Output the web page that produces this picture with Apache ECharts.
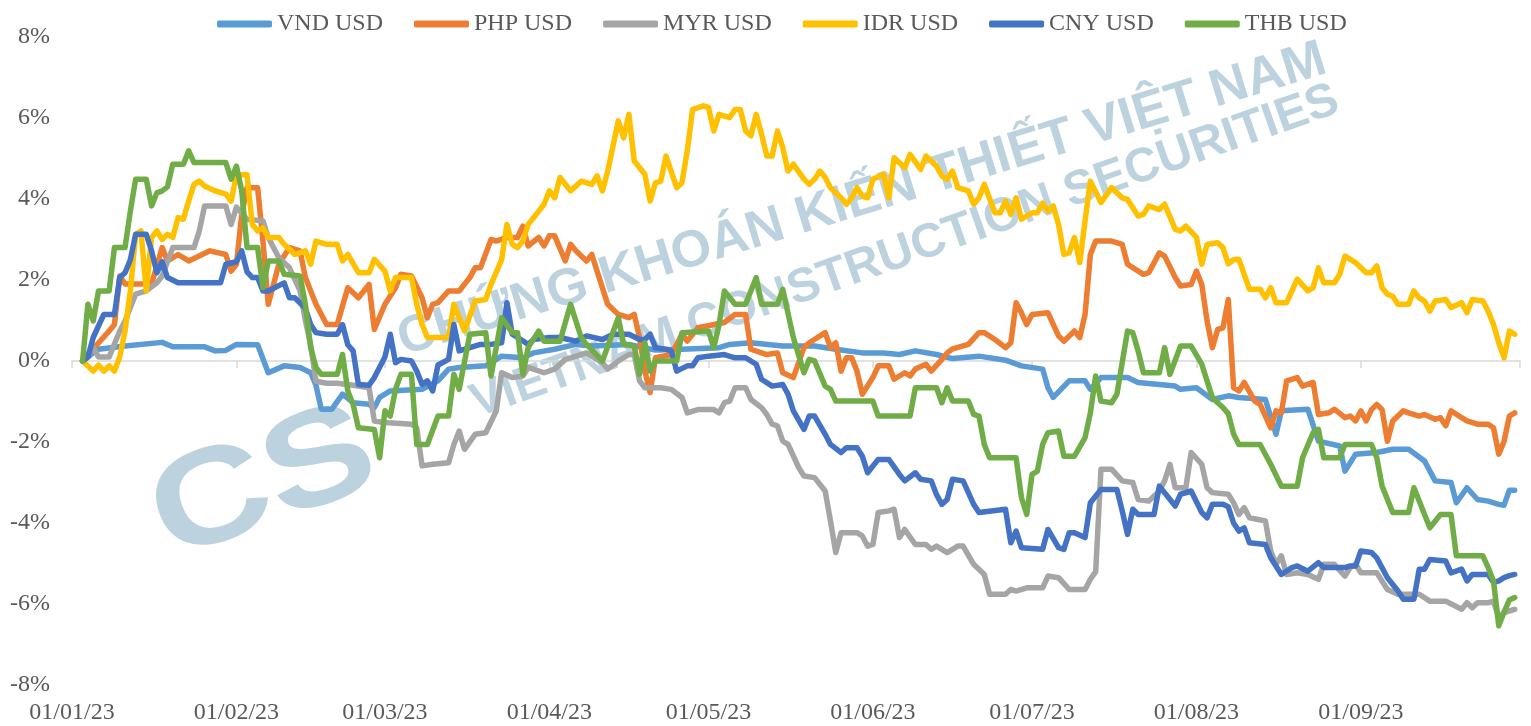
<!DOCTYPE html>
<html>
<head>
<meta charset="utf-8">
<script src="https://cdn.jsdelivr.net/npm/echarts@6/dist/echarts.min.js"></script>
<style>
  html, body { margin: 0; padding: 0; background: #ffffff; }
  #chart { width: 1531px; height: 726px; }
</style>
</head>
<body>
<div id="chart"></div>
<script>
// Currency moves against USD since the start of 2023, in percent.
// Each point is [day of year (0 = 1 Jan 2023), change %].
const SERIES_NAMES = ['VND USD', 'PHP USD', 'MYR USD', 'IDR USD', 'CNY USD', 'THB USD'];
const COLORS = ['#5B9BD5', '#ED7D31', '#A5A5A5', '#FFC000', '#4472C4', '#70AD47'];

// Month starts on the date axis and their labels
const TICK_DAYS = [0, 31, 59, 90, 120, 151, 181, 212, 243];
const TICK_LABELS = ['01/01/23', '01/02/23', '01/03/23', '01/04/23', '01/05/23',
                     '01/06/23', '01/07/23', '01/08/23', '01/09/23'];
const AXIS_END_DAY = 273;

const VND = [[2,0],[4,0.2],[5,0.29],[10,0.37],[17,0.46],[19,0.35],[25,0.35],[27,0.25],[29,0.26],[31,0.41],[35,0.4],[37,-0.29],[40,-0.12],[43,-0.16],[45,-0.29],[46,-0.6],[47,-1.19],[49,-1.19],[51,-0.82],[53,-1.03],[56,-1.07],[57,-1.15],[58,-0.9],[60,-0.74],[66,-0.7],[69,-0.49],[71,-0.2],[73,-0.16],[78,-0.12],[81,0.12],[85,0.08],[87,0.2],[91,0.29],[95,0.41],[98,0.37],[105,0.41],[110,0.27],[115,0.29],[122,0.33],[124,0.41],[128,0.45],[134,0.37],[140,0.37],[144,0.29],[149,0.2],[153,0.2],[156,0.16],[159,0.25],[163,0.16],[166,0.06],[171,0.12],[176,0.02],[179,-0.12],[183,-0.2],[184,-0.66],[185,-0.9],[188,-0.49],[191,-0.49],[192,-0.7],[194,-0.41],[199,-0.41],[201,-0.53],[208,-0.62],[209,-0.7],[212,-0.66],[215,-0.95],[218,-0.86],[220,-0.9],[225,-0.95],[227,-1.81],[228,-1.23],[233,-1.19],[235,-1.98],[239,-2.1],[240,-2.72],[242,-2.3],[246,-2.26],[249,-2.18],[252,-2.18],[255,-2.47],[257,-2.96],[260,-3.0],[261,-3.5],[263,-3.13],[265,-3.42],[267,-3.46],[269,-3.54],[270,-3.56],[271,-3.19],[272,-3.19]];

const PHP = [[2,0],[4,0.3],[7,0.74],[8,0.9],[9,2.1],[10,1.9],[15,1.9],[17,2.8],[18,2.47],[20,2.63],[22,2.47],[26,2.72],[29,2.63],[30,2.22],[31,2.39],[32,3.62],[33,4.28],[35,4.28],[36,2.96],[37,1.4],[39,2.39],[41,2.8],[43,2.72],[44,2.06],[46,1.4],[48,0.9],[50,0.9],[52,1.81],[54,1.56],[56,1.89],[57,0.78],[59,1.4],[61,1.81],[62,2.14],[64,2.1],[66,1.56],[67,1.07],[68,1.4],[69,1.44],[71,1.73],[73,1.73],[75,2.06],[76,2.3],[77,2.3],[79,3.0],[80,2.96],[82,3.05],[84,3.05],[85,3.33],[86,2.84],[88,3.05],[89,2.84],[90,3.09],[91,3.09],[93,2.47],[94,2.88],[95,2.72],[97,2.47],[98,2.63],[101,1.4],[103,1.15],[105,1.07],[106,1.15],[107,0.58],[108,-0.25],[109,-0.78],[110,0.08],[113,0.16],[115,0.66],[116,0.49],[118,0.82],[123,0.95],[125,1.15],[127,1.15],[128,0.29],[131,0.16],[133,0.2],[134,-0.29],[136,-0.41],[138,0.33],[139,0.45],[142,0.7],[143,0.33],[144,0.45],[145,-0.25],[146,0.08],[147,0.08],[148,-0.25],[149,-0.82],[151,-0.41],[152,-0.12],[154,-0.12],[155,-0.45],[157,-0.29],[158,-0.37],[159,-0.2],[161,-0.08],[162,-0.25],[164,0.04],[165,0.2],[166,0.3],[169,0.41],[171,0.7],[172,0.7],[174,0.53],[176,0.33],[177,0.45],[178,1.44],[179,1.19],[180,0.9],[181,1.15],[184,1.19],[186,0.62],[187,0.49],[189,0.74],[190,0.58],[191,1.15],[192,2.63],[193,2.96],[196,2.96],[198,2.88],[199,2.39],[202,2.14],[203,2.18],[205,2.67],[206,2.59],[208,2.06],[209,1.85],[211,1.89],[212,2.22],[213,1.89],[214,0.99],[215,0.33],[216,0.78],[217,0.82],[218,1.52],[219,-0.66],[220,-0.74],[221,-0.53],[223,-0.99],[224,-1.07],[226,-1.65],[227,-1.23],[228,-1.28],[229,-0.49],[231,-0.41],[232,-0.62],[234,-0.53],[235,-1.32],[237,-1.28],[238,-1.19],[240,-1.4],[241,-1.36],[242,-1.48],[243,-1.23],[244,-1.48],[245,-1.2],[246,-1.07],[247,-1.2],[248,-1.98],[249,-1.48],[251,-1.23],[252,-1.28],[254,-1.36],[255,-1.32],[257,-1.44],[258,-1.4],[259,-1.6],[260,-1.23],[262,-1.4],[263,-1.48],[265,-1.56],[267,-1.56],[268,-1.65],[269,-2.3],[270,-1.98],[271,-1.36],[272,-1.28]];

const MYR = [[2,0],[4,0.33],[5,0.1],[7,0.1],[9,0.74],[10,0.99],[12,1.65],[14,1.73],[16,1.93],[17,2.1],[19,2.8],[23,2.8],[24,3.21],[25,3.83],[29,3.83],[30,3.37],[31,3.8],[33,3.5],[36,3.46],[37,3.05],[39,2.55],[41,2.3],[43,1.73],[44,1.0],[45,0.4],[46,-0.5],[48,-0.55],[50,-0.55],[53,-0.6],[56,-0.66],[57,-1.48],[59,-1.52],[64,-1.56],[65,-1.65],[66,-2.59],[68,-2.55],[71,-2.51],[72,-2.06],[73,-1.73],[74,-2.18],[76,-1.81],[78,-1.77],[80,-1.23],[81,-0.29],[83,-0.41],[85,-0.37],[86,-0.16],[89,-0.29],[91,-0.2],[93,0.04],[94,0.08],[97,0.2],[100,-0.04],[101,-0.2],[103,0],[105,0.16],[106,0.16],[107,-0.49],[108,-0.66],[111,-0.66],[113,-0.7],[115,-0.9],[116,-1.28],[118,-1.2],[121,-1.2],[122,-1.28],[123,-1.03],[124,-0.99],[125,-0.66],[127,-0.66],[128,-0.95],[130,-1.15],[131,-1.32],[132,-1.56],[133,-1.6],[134,-1.98],[135,-2.06],[137,-2.63],[138,-2.84],[140,-2.88],[142,-3.21],[143,-3.95],[144,-4.73],[145,-4.24],[148,-4.24],[149,-4.32],[150,-4.57],[151,-4.53],[152,-3.74],[154,-3.7],[155,-3.66],[156,-4.36],[157,-4.16],[159,-4.53],[161,-4.53],[162,-4.65],[163,-4.57],[165,-4.73],[167,-4.57],[168,-4.57],[170,-5.02],[172,-5.27],[173,-5.76],[176,-5.76],[177,-5.64],[178,-5.68],[180,-5.6],[183,-5.6],[184,-5.31],[186,-5.35],[188,-5.64],[191,-5.64],[192,-5.39],[193,-5.2],[194,-2.67],[196,-2.67],[198,-2.96],[200,-3.0],[201,-3.42],[203,-3.46],[205,-3.21],[206,-2.96],[207,-2.55],[208,-3.13],[210,-3.13],[211,-2.26],[213,-2.55],[214,-3.13],[215,-3.25],[218,-3.29],[219,-3.5],[220,-3.79],[221,-3.62],[222,-3.87],[225,-3.95],[226,-4.69],[227,-5.02],[228,-4.81],[229,-5.27],[231,-5.23],[233,-5.27],[235,-5.39],[236,-5.02],[238,-5.02],[240,-5.31],[241,-5.1],[242,-5.02],[243,-5.23],[246,-5.23],[248,-5.64],[250,-5.76],[254,-5.76],[256,-5.93],[259,-5.93],[262,-6.13],[263,-5.97],[264,-6.09],[265,-5.97],[267,-5.97],[268,-5.93],[269,-6.34],[270,-6.21],[272,-6.13]];

const IDR = [[2,0],[4,-0.25],[5,-0.1],[6,-0.25],[7,-0.12],[8,-0.25],[9,0.1],[10,0.74],[11,1.73],[12,3.13],[13,3.21],[14,1.73],[15,3.05],[16,3.21],[17,3.0],[18,3.13],[19,3.05],[20,3.54],[21,3.5],[22,3.95],[23,4.36],[24,4.44],[25,4.32],[27,4.2],[29,4.12],[30,3.95],[31,4.6],[33,4.6],[34,3.37],[35,3.21],[36,3.29],[37,3.05],[39,3.05],[40,2.88],[42,2.63],[44,2.72],[45,2.39],[46,2.96],[48,2.88],[50,2.88],[51,2.47],[52,2.63],[54,2.18],[56,2.18],[57,2.51],[59,2.22],[60,1.73],[61,2.06],[64,2.06],[65,1.4],[66,0.9],[67,0.58],[71,0.58],[72,1.4],[74,0.74],[76,1.48],[78,1.52],[79,1.89],[81,2.5],[82,3.37],[83,2.88],[84,2.8],[85,2.96],[86,3.37],[88,3.7],[89,3.87],[90,4.2],[91,4.03],[92,4.53],[94,4.2],[96,4.44],[98,4.36],[99,4.57],[100,4.2],[101,4.69],[103,5.93],[104,5.51],[105,6.09],[106,4.94],[108,4.61],[109,3.95],[110,4.4],[111,4.44],[112,5.06],[114,4.28],[115,4.4],[116,5.19],[117,6.21],[119,6.3],[120,6.26],[121,5.68],[122,6.09],[124,6.01],[125,6.21],[126,6.21],[127,5.68],[128,5.56],[129,6.09],[130,5.6],[131,5.06],[132,5.06],[133,5.68],[134,5.27],[135,4.69],[136,4.86],[138,4.49],[139,4.36],[140,4.49],[141,4.69],[142,4.53],[143,4.28],[145,4.03],[146,3.87],[147,4.03],[148,4.28],[149,4.07],[150,4.03],[151,4.49],[153,4.61],[154,4.03],[155,5.02],[157,4.77],[158,5.1],[160,4.73],[161,5.06],[163,4.81],[164,4.57],[165,4.49],[166,4.69],[167,4.28],[169,4.2],[170,3.87],[171,4.03],[172,4.36],[174,3.66],[175,3.66],[176,3.95],[177,3.62],[178,4.03],[179,3.5],[181,3.66],[182,3.66],[183,3.9],[184,3.7],[185,3.83],[186,3.37],[187,2.63],[188,2.67],[189,3.05],[190,2.43],[191,3.46],[192,4.44],[194,3.91],[196,4.28],[198,4.03],[199,3.99],[201,3.58],[202,3.62],[203,3.83],[205,3.74],[206,3.87],[208,3.25],[209,3.21],[210,3.33],[212,3.05],[213,2.39],[214,2.88],[216,2.92],[217,2.8],[218,2.4],[219,2.5],[220,2.51],[221,2.14],[222,1.77],[224,1.77],[225,1.56],[226,1.81],[227,1.44],[229,1.44],[230,1.73],[231,2.02],[233,1.73],[234,1.81],[235,2.3],[236,1.93],[238,1.93],[239,2.14],[240,2.59],[242,2.43],[244,2.18],[245,2.18],[246,2.35],[247,1.81],[248,1.65],[249,1.6],[250,1.4],[252,1.4],[253,1.73],[254,1.56],[255,1.48],[256,1.23],[257,1.48],[259,1.52],[260,1.32],[262,1.44],[263,1.19],[264,1.52],[266,1.48],[267,1.23],[268,0.9],[269,0.45],[270,0.08],[271,0.74],[272,0.66]];

const CNY = [[2,0],[3,0.1],[4,0.58],[6,1.15],[8,1.15],[9,2.06],[10,2.18],[11,2.5],[12,3.13],[14,3.13],[15,2.72],[16,2.18],[17,2.45],[18,2.06],[20,1.93],[28,1.93],[29,2.39],[31,2.45],[32,2.72],[33,2.2],[34,2.06],[35,2.06],[36,1.73],[37,1.73],[40,1.93],[41,1.56],[42,1.56],[44,1.3],[45,0.9],[46,0.7],[48,0.66],[50,0.66],[51,0.9],[52,0.4],[53,0.25],[54,-0.58],[56,-0.6],[57,-0.41],[59,0.1],[60,0.66],[61,-0.04],[62,0.04],[64,0],[65,-0.25],[66,-0.58],[67,-0.49],[68,-0.74],[69,-0.1],[71,0.04],[72,0.9],[73,0.25],[75,0.33],[77,0.41],[79,0.41],[81,0.45],[82,1.44],[83,0.66],[85,0.5],[86,0.41],[87,0.53],[90,0.58],[92,0.58],[95,0.49],[97,0.62],[100,0.53],[102,0.66],[105,0.66],[107,0.53],[108,0.53],[109,0.66],[110,0.33],[112,0.29],[113,0.25],[114,-0.25],[116,-0.12],[117,-0.12],[118,0.08],[120,0.12],[123,0.16],[125,0.08],[127,0.08],[129,-0.08],[130,-0.45],[132,-0.62],[134,-0.58],[135,-0.82],[136,-1.23],[138,-1.69],[139,-1.36],[140,-1.36],[142,-1.81],[143,-2.06],[145,-2.26],[146,-2.14],[148,-2.14],[149,-2.35],[150,-2.76],[152,-2.43],[154,-2.43],[156,-2.8],[157,-2.96],[159,-2.76],[160,-2.92],[162,-2.96],[163,-3.3],[164,-3.54],[165,-3.42],[166,-2.92],[168,-2.96],[170,-3.54],[171,-3.74],[176,-3.66],[177,-4.49],[178,-4.2],[179,-4.61],[183,-4.65],[184,-4.16],[186,-4.61],[187,-4.65],[188,-4.24],[189,-4.24],[191,-4.36],[192,-3.5],[194,-3.17],[197,-3.17],[198,-3.7],[199,-4.28],[200,-3.66],[201,-3.79],[204,-3.79],[205,-3.09],[208,-3.58],[209,-3.29],[211,-3.21],[213,-3.74],[214,-3.87],[215,-3.54],[217,-3.54],[218,-3.6],[219,-4.0],[220,-4.2],[221,-4.12],[222,-4.49],[225,-4.53],[226,-4.86],[228,-5.27],[230,-5.1],[231,-5.06],[233,-5.19],[235,-4.98],[236,-5.1],[240,-5.1],[241,-5.06],[242,-5.06],[243,-4.69],[245,-4.73],[246,-4.86],[248,-5.35],[250,-5.68],[251,-5.88],[253,-5.88],[254,-5.14],[255,-5.14],[256,-4.9],[259,-4.94],[260,-5.23],[262,-5.14],[263,-5.43],[264,-5.27],[267,-5.27],[268,-5.47],[269,-5.43],[270,-5.35],[271,-5.3],[272,-5.27]];

const THB = [[2,0],[3,1.4],[4,0.99],[5,1.73],[7,1.73],[8,2.8],[10,2.8],[11,3.7],[12,4.49],[14,4.49],[15,3.83],[16,4.15],[17,4.2],[18,4.3],[19,4.86],[21,4.86],[22,5.19],[23,4.9],[29,4.9],[30,4.49],[31,4.81],[32,4.2],[33,2.8],[35,2.8],[36,1.81],[37,2.47],[39,2.47],[40,2.14],[43,2.1],[44,1.4],[45,0.33],[46,-0.16],[47,-0.33],[50,-0.33],[51,0.16],[52,-0.74],[53,-1.07],[54,-1.65],[57,-1.69],[58,-2.39],[59,-1.23],[60,-1.36],[61,-0.7],[62,-0.33],[64,-0.33],[65,-2.06],[67,-2.06],[69,-1.36],[71,-1.36],[72,-0.33],[73,-0.7],[75,0.66],[78,0.7],[79,-0.37],[81,1.07],[83,0.7],[84,0.7],[85,-0.33],[86,0.33],[88,0.74],[89,0.49],[92,0.49],[94,1.4],[96,0.58],[97,0.41],[100,0],[103,1.07],[104,0.41],[106,0.37],[107,-0.33],[108,0.45],[109,-0.25],[110,0],[114,0],[115,0.7],[120,0.74],[121,0.33],[122,0.9],[123,1.73],[125,1.4],[127,1.4],[129,2.06],[130,1.4],[133,1.4],[134,1.77],[136,0.58],[138,-0.29],[139,0.04],[140,0],[142,-0.62],[143,-0.7],[144,-0.99],[151,-0.99],[152,-1.36],[158,-1.36],[159,-0.66],[163,-0.66],[164,-1.03],[165,-0.66],[166,-0.99],[169,-0.99],[170,-1.32],[171,-1.36],[172,-2.06],[173,-2.39],[178,-2.39],[179,-3.37],[180,-3.79],[181,-2.8],[182,-2.72],[183,-2.06],[184,-1.77],[186,-1.73],[187,-2.35],[189,-2.35],[191,-1.89],[192,-1.28],[193,-0.37],[194,-0.99],[196,-1.03],[197,-0.82],[199,0.74],[200,0.7],[201,0.25],[202,-0.29],[205,-0.29],[206,0.33],[207,-0.33],[209,0.37],[211,0.37],[213,-0.08],[214,-0.49],[215,-0.9],[216,-1.03],[217,-1.15],[218,-1.3],[219,-1.8],[220,-2.06],[224,-2.06],[226,-2.55],[228,-3.09],[231,-3.09],[232,-2.39],[234,-1.77],[235,-1.69],[236,-2.39],[239,-2.39],[240,-2.06],[245,-2.06],[246,-2.39],[247,-3.09],[249,-3.74],[252,-3.74],[253,-3.13],[256,-4.12],[258,-3.79],[260,-3.79],[261,-4.81],[266,-4.81],[267,-5.1],[268,-5.43],[269,-6.54],[270,-6.2],[271,-5.9],[272,-5.84]];

const SERIES_DATA = [VND, PHP, MYR, IDR, CNY, THB];

// Y axis range and step (percent)
const Y_MIN = -8, Y_MAX = 8, Y_STEP = 2;

const TEXT_COLOR = '#595959';
const SERIF = '"Liberation Serif", "Times New Roman", serif';
const WM_FONT = '"Liberation Sans", Arial, sans-serif';
const WATERMARK = '#bcd3df';
const deg = Math.PI / 180;

const chart = echarts.init(document.getElementById('chart'), null, { renderer: 'canvas' });

chart.setOption({
  animation: false,
  backgroundColor: '#ffffff',
  color: COLORS,
  grid: { left: 72, right: 11, top: 37, bottom: 41, containLabel: false },
  legend: {
    data: SERIES_NAMES,
    top: 7,
    left: 212,
    icon: 'roundRect',
    itemWidth: 55,
    itemHeight: 7,
    itemGap: 31,
    textStyle: { fontFamily: SERIF, fontSize: 24, color: TEXT_COLOR }
  },
  // Company watermark behind the lines
  graphic: [
    {
      type: 'text', x: 264, y: 486, rotation: 20 * deg, scaleX: 1.22, z: 0, silent: true,
      style: { text: 'CS', font: 'bold 135px ' + WM_FONT,
               fill: WATERMARK, align: 'center', verticalAlign: 'middle' }
    },
    {
      type: 'text', x: 862, y: 200, rotation: 17 * deg, z: 0, silent: true,
      style: { text: 'CHỨNG KHOÁN KIẾN THIẾT VIỆT NAM', font: 'bold 52px ' + WM_FONT,
               fill: WATERMARK, align: 'center', verticalAlign: 'middle' }
    },
    {
      type: 'text', x: 905, y: 252, rotation: 19.5 * deg, z: 0, silent: true,
      style: { text: 'VIETNAM CONSTRUCTION SECURITIES', font: 'bold 48px ' + WM_FONT,
               fill: WATERMARK, align: 'center', verticalAlign: 'middle' }
    }
  ],
  xAxis: [
    {
      // date axis line drawn through 0 %, with month tick marks
      type: 'value',
      min: 0,
      max: AXIS_END_DAY,
      axisLine: { show: true, onZero: true, lineStyle: { color: '#d9d9d9', width: 1.5 } },
      axisTick: { show: true, customValues: TICK_DAYS.concat([AXIS_END_DAY]), length: 7,
                  lineStyle: { color: '#d9d9d9', width: 1.5 } },
      axisLabel: { show: false },
      splitLine: { show: false }
    },
    {
      // month labels along the bottom of the plot
      type: 'value',
      position: 'bottom',
      min: 0,
      max: AXIS_END_DAY,
      axisLine: { show: false, onZero: false },
      axisTick: { show: false },
      splitLine: { show: false },
      axisLabel: {
        customValues: TICK_DAYS,
        formatter: v => TICK_LABELS[TICK_DAYS.indexOf(v)] || '',
        color: TEXT_COLOR, fontFamily: SERIF, fontSize: 24, margin: 16
      }
    }
  ],
  yAxis: {
    type: 'value',
    min: Y_MIN,
    max: Y_MAX,
    interval: Y_STEP,
    axisLine: { show: false },
    axisTick: { show: false },
    splitLine: { show: false },
    axisLabel: { formatter: v => v + '%', color: TEXT_COLOR, fontFamily: SERIF, fontSize: 24, margin: 22 }
  },
  series: SERIES_NAMES.map((name, i) => ({
    name: name,
    type: 'line',
    xAxisIndex: 0,
    data: SERIES_DATA[i],
    symbol: 'none',
    showSymbol: false,
    lineStyle: { width: 5.5, color: COLORS[i], cap: 'round', join: 'round' },
    itemStyle: { color: COLORS[i] },
    z: 2 + i
  }))
});
</script>
</body>
</html>
